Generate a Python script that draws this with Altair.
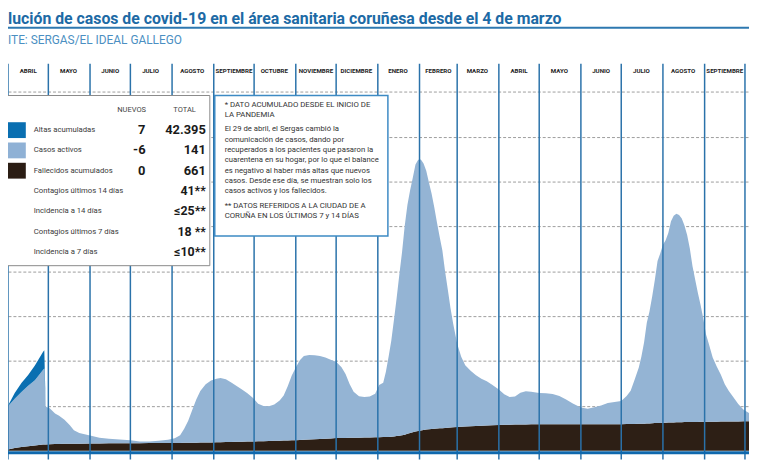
import altair as alt
import pandas as pd

# ---------------- data ----------------
fechas = [
    "2020-04-01", "2020-04-06", "2020-04-11", "2020-04-16", "2020-04-21", "2020-04-27", "2020-04-28",
    "2020-04-29", "2020-05-02", "2020-05-06", "2020-05-09", "2020-05-13", "2020-05-17", "2020-05-20", "2020-05-24",
    "2020-06-01", "2020-06-08", "2020-06-15", "2020-06-23", "2020-07-01", "2020-07-08", "2020-07-15", "2020-07-22", "2020-07-29",
    "2020-08-03", "2020-08-07", "2020-08-10", "2020-08-13", "2020-08-16", "2020-08-19", "2020-08-22", "2020-08-26", "2020-08-30",
    "2020-09-03", "2020-09-06", "2020-09-10", "2020-09-14", "2020-09-18", "2020-09-22", "2020-09-26", "2020-09-30",
    "2020-10-04", "2020-10-08", "2020-10-12", "2020-10-16", "2020-10-20", "2020-10-23", "2020-10-26", "2020-10-29",
    "2020-11-01", "2020-11-04", "2020-11-07", "2020-11-11", "2020-11-15", "2020-11-19", "2020-11-23", "2020-11-27",
    "2020-12-01", "2020-12-05", "2020-12-08", "2020-12-11", "2020-12-14", "2020-12-18", "2020-12-22", "2020-12-26", "2020-12-30",
    "2021-01-02", "2021-01-05", "2021-01-07", "2021-01-09", "2021-01-11", "2021-01-13", "2021-01-15", "2021-01-17",
    "2021-01-19", "2021-01-21", "2021-01-23", "2021-01-25", "2021-01-27", "2021-01-29", "2021-01-31",
    "2021-02-02", "2021-02-04", "2021-02-06", "2021-02-08", "2021-02-10", "2021-02-12", "2021-02-14", "2021-02-16",
    "2021-02-18", "2021-02-20", "2021-02-22", "2021-02-24", "2021-02-26",
    "2021-03-01", "2021-03-04", "2021-03-07", "2021-03-11", "2021-03-15", "2021-03-19", "2021-03-23", "2021-03-27",
    "2021-04-01", "2021-04-05", "2021-04-09", "2021-04-13", "2021-04-17", "2021-04-21", "2021-04-25",
    "2021-05-01", "2021-05-06", "2021-05-11", "2021-05-16", "2021-05-21", "2021-05-26",
    "2021-06-01", "2021-06-06", "2021-06-11", "2021-06-16", "2021-06-21", "2021-06-26",
    "2021-07-01", "2021-07-05", "2021-07-08", "2021-07-11", "2021-07-14", "2021-07-16", "2021-07-18", "2021-07-20",
    "2021-07-22", "2021-07-24", "2021-07-26", "2021-07-28", "2021-07-30",
    "2021-08-01", "2021-08-03", "2021-08-05", "2021-08-07", "2021-08-09", "2021-08-11", "2021-08-13", "2021-08-15",
    "2021-08-17", "2021-08-19", "2021-08-21", "2021-08-23", "2021-08-25", "2021-08-27", "2021-08-29", "2021-08-31",
    "2021-09-02", "2021-09-04", "2021-09-07", "2021-09-10", "2021-09-13", "2021-09-16", "2021-09-19", "2021-09-22",
    "2021-09-26", "2021-09-30", "2021-10-04",
]

fallecidos = [
    29, 60, 84, 99, 117, 135, 137,
    140, 143, 148, 150, 152, 154, 155, 156,
    160, 162, 163, 165, 167, 168, 169, 170, 171,
    173, 174, 175, 176, 177, 178, 180, 182, 184,
    186, 190, 193, 196, 198, 200, 203, 205,
    209, 213, 216, 220, 224, 227, 229, 232,
    235, 240, 244, 250, 256, 262, 268, 274,
    280, 283, 285, 287, 289, 291, 294, 296, 299,
    301, 303, 305, 306, 308, 315, 325, 335, 345, 355, 375, 395, 410, 425, 440,
    452, 462, 470, 477, 483, 488, 493, 498, 503, 508, 513, 518, 522,
    528, 535, 540, 546, 551, 556, 562, 567,
    572, 576, 580, 583, 585, 586, 587,
    587, 587, 587, 588, 588, 588,
    588, 588, 589, 590, 590, 591,
    592, 593, 594, 596, 598, 600, 602, 605, 608, 612, 615, 618, 620,
    622, 624, 626, 628, 630, 632, 634, 636, 637, 638, 639, 640, 641, 642, 643, 644,
    645, 646, 647, 648, 649, 650, 651, 652, 653, 654, 655,
]

activos = [
    964, 1097, 1227, 1349, 1455, 1666, 1695,
    842, 806, 684, 627, 537, 413, 298, 241,
    176, 125, 102, 82, 67, 37, 37, 52, 70,
    103, 168, 315, 491, 730, 965, 1151, 1299, 1383,
    1419, 1430, 1403, 1323, 1243, 1162, 1077, 978,
    840, 783, 775, 811, 893, 1003, 1208, 1446,
    1619, 1778, 1869, 1885, 1870, 1848, 1809, 1752,
    1702, 1580, 1428, 1203, 1024, 921, 902, 914, 970,
    1165, 1211, 1454, 1787, 2142, 2606, 3081, 3594, 4081, 4663, 5106, 5415, 5676, 5959, 6050,
    6043, 5942, 5773, 5503, 5248, 4938, 4589, 4270, 3961, 3494, 3085, 2670, 2317,
    1856, 1562, 1363, 1235, 1129, 1049, 985, 905,
    792, 684, 616, 627, 706, 738, 729,
    700, 693, 676, 633, 553, 463,
    377, 346, 378, 417, 472, 495,
    516, 626, 744, 991, 1252, 1499, 1815, 2249, 2498, 2827, 3199, 3614, 3780,
    3974, 4071, 4230, 4487, 4608, 4653, 4624, 4541, 4385, 4174, 3869, 3473, 3173, 2875, 2609, 2307,
    1951, 1751, 1432, 1231, 1051, 831, 682, 556, 389, 260, 184,
]

# altas acumuladas only shown until the 28th of April 2020
altas_abril = [10, 130, 200, 240, 330, 400, 410]

series = ["Fallecidos acumulados", "Casos activos", "Altas acumuladas"]
colores = ["#2d1f15", "#94b4d4", "#0a6fb1"]

meses_inicio = [
    "2020-04-01", "2020-05-01", "2020-06-01", "2020-07-01", "2020-08-01", "2020-09-01", "2020-10-01",
    "2020-11-01", "2020-12-01", "2021-01-01", "2021-02-01", "2021-03-01", "2021-04-01", "2021-05-01",
    "2021-06-01", "2021-07-01", "2021-08-01", "2021-09-01", "2021-10-01",
]
meses_nombre = ["ABRIL", "MAYO", "JUNIO", "JULIO", "AGOSTO", "SEPTIEMBRE", "OCTUBRE", "NOVIEMBRE",
                "DICIEMBRE", "ENERO", "FEBRERO", "MARZO", "ABRIL", "MAYO", "JUNIO", "JULIO",
                "AGOSTO", "SEPTIEMBRE"]

titulo = "lución de casos de covid-19 en el área sanitaria coruñesa desde el 4 de marzo"
fuente = "ITE: SERGAS/EL IDEAL GALLEGO"

filas_leyenda = [
    ("Altas acumuladas", "7", "42.395"),
    ("Casos activos", "-6", "141"),
    ("Fallecidos acumulados", "0", "661"),
    ("Contagios últimos 14 días", "", "41**"),
    ("Incidencia a 14 días", "", "≤25**"),
    ("Contagios últimos 7 días", "", "18 **"),
    ("Incidencia a 7 días", "", "≤10**"),
]
colores_leyenda = ["#0a6fb1", "#8fb1d5", "#2b1d14"]

nota_1 = ["* DATO ACUMULADO DESDE EL INICIO DE", "LA PANDEMIA"]
nota_2 = ["El 29 de abril, el Sergas cambió la",
          "comunicación de casos, dando por",
          "recuperados a los pacientes que pasaron la",
          "cuarentena en su hogar, por lo que el balance",
          "es negativo al haber más altas que nuevos",
          "casos. Desde ese día, se muestran solo los",
          "casos activos y los fallecidos."]
nota_3 = ["** DATOS REFERIDOS A LA CIUDAD DE A", "CORUÑA EN LOS ÚLTIMOS 7 y 14 DÍAS"]

# ---------------- tables ----------------
n = len(fechas)
altas = altas_abril + [0] * (n - len(altas_abril))
filas = []
for i, f in enumerate(fechas):
    for k, vals in enumerate([fallecidos, activos, altas]):
        filas.append({"fecha": f, "serie": series[k], "valor": vals[i], "orden": k})
df = pd.DataFrame(filas)

ini = pd.to_datetime(pd.Series(meses_inicio))
mid = [(ini[i] + (ini[i + 1] - ini[i]) / 2).strftime("%Y-%m-%d") for i in range(len(meses_nombre))]
df_meses = pd.DataFrame({"mid": mid, "nombre": meses_nombre})
df_lineas = pd.DataFrame({"inicio": meses_inicio})
uno = pd.DataFrame({"k": [0]})

FN = "Roboto"
W, H = 749, 445

xscale = alt.Scale(domain=[alt.DateTime(year=2020, month=4, date=1),
                           alt.DateTime(year=2021, month=10, date=4)])

area = alt.Chart(df).mark_area(interpolate="linear").encode(
    x=alt.X("fecha:T", scale=xscale, axis=None),
    y=alt.Y("valor:Q", stack="zero", scale=alt.Scale(domain=[0, 9820], nice=False),
            axis=alt.Axis(values=[1000, 2000, 3000, 4000, 5000, 6000, 7000, 8000], grid=True,
                          gridDash=[3, 2], gridColor="#9d9d9d", gridWidth=1, labels=False,
                          ticks=False, domain=False, title=None)),
    color=alt.Color("serie:N", scale=alt.Scale(domain=series, range=colores), legend=None),
    order=alt.Order("orden:Q", sort="ascending"),
)

lineas = alt.Chart(df_lineas).mark_rule(color="#2a72aa", strokeWidth=1.5).encode(
    x=alt.X("inicio:T", scale=xscale), y=alt.value(54), y2=alt.value(454))

etiquetas = alt.Chart(df_meses).mark_text(font=FN, fontSize=6.2, fontWeight="bold", color="#222222",
                                           baseline="middle").encode(
    x=alt.X("mid:T", scale=xscale), y=alt.value(61), text="nombre:N")

base = alt.Chart(uno).mark_rule(color="#0f68ad", strokeWidth=3, yOffset=2).encode(y=alt.datum(0))


def txt(t, x, y, size=9, weight="normal", align="left", color="#333333", baseline="middle", lh=None):
    kw = dict(text=t, font=FN, fontSize=size, fontWeight=weight, align=align, color=color, baseline=baseline)
    if lh is not None:
        kw["lineHeight"] = lh
    return alt.Chart(uno).mark_text(**kw).encode(x=alt.value(x), y=alt.value(y))


def caja(x1, x2, y1, y2, fill="white", stroke=None, sw=1):
    kw = dict(fill=fill)
    if stroke is not None:
        kw.update(stroke=stroke, strokeWidth=sw)
    return alt.Chart(uno).mark_rect(**kw).encode(
        x=alt.value(x1), x2=alt.value(x2), y=alt.value(y1), y2=alt.value(y2))


capas = [area, lineas, etiquetas, base]

# title block
capas.append(txt(titulo, 0, 14, size=16, weight="bold", color="#1d6aa5", baseline="alphabetic"))
capas.append(alt.Chart(uno).mark_rule(color="#2e78b0", strokeWidth=1.8).encode(
    x=alt.value(0), x2=alt.value(W), y=alt.value(17.5)))
capas.append(txt(fuente, 0, 34, size=12, color="#4b8fc2", baseline="alphabetic"))

# legend box
capas.append(caja(-5, 204, 86, 258, stroke="#8a8a8a", sw=1))
capas.append(txt("NUEVOS", 125, 101, size=7.6, align="center", color="#444444"))
capas.append(txt("TOTAL", 178.5, 101, size=7.6, align="center", color="#444444"))
for i, (lab, nuevo, total) in enumerate(filas_leyenda):
    yc = 121 + i * 20.5
    if i < 3:
        capas.append(caja(0, 18, yc - 8, yc + 8, fill=colores_leyenda[i]))
        capas.append(txt(nuevo, 139, yc, size=13, weight="bold", align="right", color="#1a1a1a"))
        capas.append(txt(total, 200, yc, size=13, weight="bold", align="right", color="#1a1a1a"))
    else:
        capas.append(txt(total, 200, yc, size=12.5, weight="bold", align="right", color="#1a1a1a"))
    capas.append(txt(lab, 26, yc, size=7.8, color="#3a3a3a"))

# note box
capas.append(caja(209, 384, 86, 228, stroke="#3d8ac4", sw=1.5))
capas.append(txt(nota_1, 219, 92, size=7.9, baseline="top", lh=10))
capas.append(txt(nota_2, 219, 116, size=7.8, baseline="top", lh=10.5))
capas.append(txt(nota_3, 219, 194, size=7.9, baseline="top", lh=10))

chart = alt.layer(*capas).properties(
    width=W, height=H,
    padding={"left": 0, "top": 0, "right": 0, "bottom": 10},
    autosize=alt.AutoSizeParams(type="none"),
    background="white",
).configure_view(stroke=None)

chart.save("out.html", embed_options={"renderer": "svg", "actions": False})
